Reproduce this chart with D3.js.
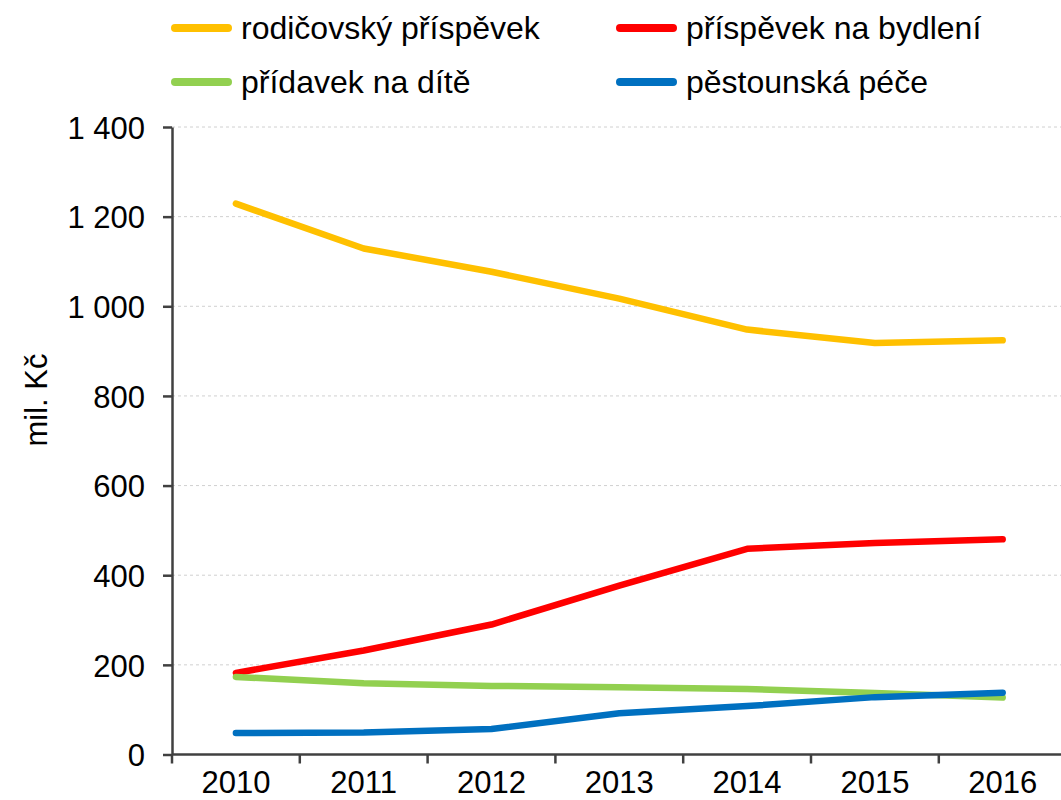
<!DOCTYPE html>
<html>
<head>
<meta charset="utf-8">
<script src="https://cdn.jsdelivr.net/npm/d3@7"></script>
<style>
  body { margin: 0; background: #fff; }
  svg { display: block; font-family: "Liberation Sans", Arial, sans-serif; }
  .grid line { stroke: #d0d0d0; stroke-dasharray: 3,3; }
  .axis path, .axis line { stroke: #404040; stroke-width: 2.5; }
  .axis text { fill: #000; font-size: 31px; }
</style>
</head>
<body>
<div id="vis"></div>
<script>
var years = ["2010", "2011", "2012", "2013", "2014", "2015", "2016"];
var seriesNames = ["rodičovský příspěvek", "příspěvek na bydlení", "přídavek na dítě", "pěstounská péče"];
var rodicovsky = [1229, 1129, 1077, 1017, 948, 918, 924];
var bydleni = [182, 232, 290, 377, 459, 472, 480];
var pridavek = [173, 159, 153, 150, 146, 137, 127];
var pestounska = [48, 49, 57, 92, 108, 128, 138];
var yTicks = [0, 200, 400, 600, 800, 1000, 1200, 1400];
var colors = ["#FFC000", "#FF0000", "#92D050", "#0070C0"];

var series = [rodicovsky, bydleni, pridavek, pestounska];

var W = 1061, H = 800;
var margin = {top: 127, left: 172, bottom: 45};

var svg = d3.select("#vis").append("svg")
  .attr("width", W)
  .attr("height", H);

var x = d3.scaleBand()
  .domain(years)
  .range([margin.left, margin.left + 7 * 127.8]);

var y = d3.scaleLinear()
  .domain([0, 1400])
  .range([H - margin.bottom - 0.5, margin.top]);

// gridlines
svg.append("g")
  .attr("class", "grid")
  .selectAll("line")
  .data(yTicks.slice(1))
  .enter().append("line")
    .attr("x1", margin.left)
    .attr("x2", W)
    .attr("y1", function(d) { return y(d); })
    .attr("y2", function(d) { return y(d); });

var fmt = function(d) { return d3.format(",")(d).replace(/,/g, " "); };

svg.append("g")
  .attr("class", "axis")
  .attr("transform", "translate(" + margin.left + ",0)")
  .call(d3.axisLeft(y).tickValues(yTicks).tickFormat(fmt).tickSizeInner(9).tickSizeOuter(0).tickPadding(18))
  .selectAll("text").attr("dy", "0.36em");

// x axis with ticks at band boundaries
var xAxis = svg.append("g")
  .attr("class", "axis")
  .attr("transform", "translate(0," + y(0) + ")");
xAxis.append("line")
  .attr("x1", margin.left).attr("x2", W)
  .attr("y1", 0).attr("y2", 0);
xAxis.selectAll(".tk")
  .data(years)
  .enter().append("line")
    .attr("x1", function(d) { return x(d); })
    .attr("x2", function(d) { return x(d); })
    .attr("y1", 0).attr("y2", 9);
xAxis.selectAll("text")
  .data(years)
  .enter().append("text")
    .attr("x", function(d) { return x(d) + x.bandwidth() / 2; })
    .attr("y", 38)
    .attr("text-anchor", "middle")
    .text(function(d) { return d; });

svg.append("text")
  .attr("transform", "translate(47,400) rotate(-90)")
  .attr("text-anchor", "middle")
  .attr("font-size", 31)
  .text("mil. Kč");

var line = d3.line()
  .x(function(d, i) { return x(years[i]) + x.bandwidth() / 2; })
  .y(function(d) { return y(d); });

svg.append("g")
  .selectAll("path")
  .data(series)
  .enter().append("path")
    .attr("d", line)
    .attr("fill", "none")
    .attr("stroke", function(d, i) { return colors[i]; })
    .attr("stroke-width", 6.5)
    .attr("stroke-linecap", "round")
    .attr("stroke-linejoin", "round");

// legend
var legend = svg.append("g")
  .selectAll("g")
  .data(seriesNames)
  .enter().append("g")
    .attr("transform", function(d, i) {
      return "translate(" + (i % 2 === 0 ? 175 : 620) + "," + (i < 2 ? 28 : 82) + ")";
    });

legend.append("line")
  .attr("x1", 0).attr("x2", 53)
  .attr("stroke", function(d, i) { return colors[i]; })
  .attr("stroke-width", 8)
  .attr("stroke-linecap", "round");

legend.append("text")
  .attr("x", 66)
  .attr("y", 0)
  .attr("dy", "0.35em")
  .attr("font-size", 32)
  .text(function(d) { return d; });
</script>
</body>
</html>
